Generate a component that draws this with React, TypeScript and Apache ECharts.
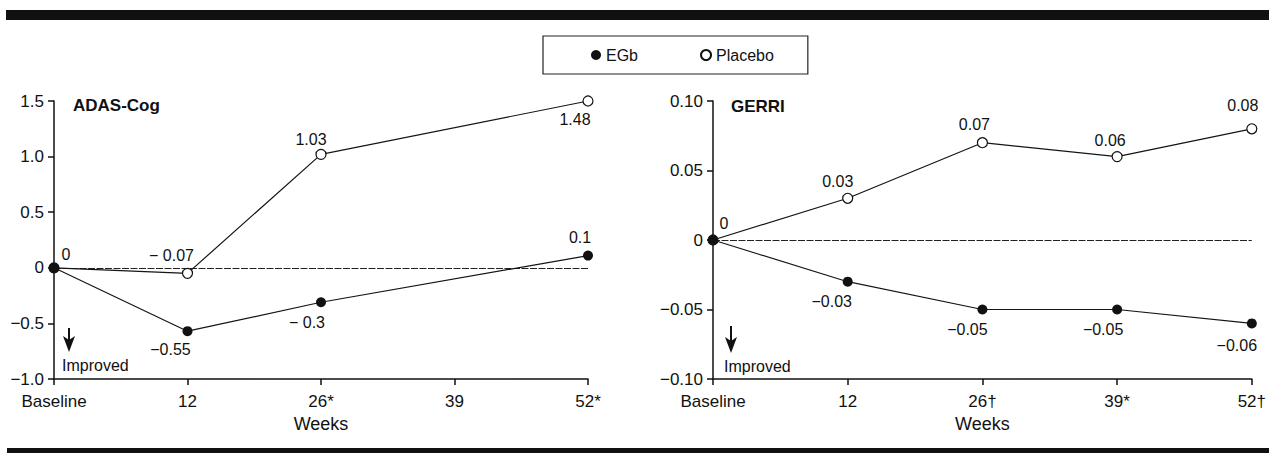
import React, { useEffect, useRef } from "react";
import * as echarts from "echarts";

const FONT = "'Liberation Sans', Arial, Helvetica, sans-serif";
const INK = "#111";

// ---- data ----
const weeks = ["Baseline", "12", "26", "39", "52"];
const adasXLabels = ["Baseline", "12", "26*", "39", "52*"];
const gerriXLabels = ["Baseline", "12", "26†", "39*", "52†"];

const adasYLabels = ["−1.0", "−0.5", "0", "0.5", "1.0", "1.5"];
const gerriYLabels = ["−0.10", "−0.05", "0", "0.05", "0.10"];

const adasEGb = [0, -0.57, -0.31, null, 0.11];
const adasPlacebo = [0, -0.05, 1.02, null, 1.5];
const adasEGbText = ["0", "−0.55", "− 0.3", null, "0.1"];
const adasPlaceboText = [null, "− 0.07", "1.03", null, "1.48"];

const gerriEGb = [0, -0.03, -0.05, -0.05, -0.06];
const gerriPlacebo = [0, 0.03, 0.07, 0.06, 0.08];
const gerriEGbText = ["0", "−0.03", "−0.05", "−0.05", "−0.06"];
const gerriPlaceboText = [null, "0.03", "0.07", "0.06", "0.08"];

// ---- label offsets (style) ----
const adasEGbOff = [[12, -13], [-17, 18], [-14, 20], [0, 0], [-8, -18]];
const adasPlaceboOff = [[0, 0], [-16, -18], [-10, -15], [0, 0], [-13, 18]];
const gerriEGbOff = [[11, -17], [-16, 20], [-15, 20], [-14, 20], [-15, 22]];
const gerriPlaceboOff = [[0, 0], [-10, -17], [-8, -18], [-7, -16], [-9, -23]];

function yFmt(labels: string[], min: number, interval: number) {
  return (v: number) => labels[Math.round((v - min) / interval)] ?? "";
}

function makeSeries(
  name: string,
  values: (number | null)[],
  texts: (string | null)[],
  offsets: number[][],
  idx: number,
  filled: boolean,
  zeroLine: boolean
) {
  return {
    type: "line",
    name,
    xAxisIndex: idx,
    yAxisIndex: idx,
    connectNulls: true,
    symbol: "circle",
    symbolSize: 10,
    showAllSymbol: true,
    z: filled ? 4 : 3,
    lineStyle: { color: "#151515", width: 1.2 },
    itemStyle: filled
      ? { color: INK, borderColor: INK, borderWidth: 0 }
      : { color: "#fff", borderColor: INK, borderWidth: 1.2 },
    label: {
      position: "inside",
      color: INK,
      fontSize: 16,
      fontFamily: FONT,
      textBorderWidth: 0,
    },
    emphasis: { disabled: true },
    data: values.map((v, i) =>
      v == null
        ? null
        : {
            value: v,
            label: texts[i]
              ? { show: true, formatter: texts[i], offset: offsets[i] }
              : { show: false },
          }
    ),
    markLine: zeroLine
      ? {
          silent: true,
          symbol: ["none", "none"],
          label: { show: false },
          lineStyle: { type: [7, 1.5], color: "#222", width: 1.2 },
          data: [{ yAxis: 0 }],
          z: 1,
        }
      : undefined,
  };
}

function xAxisOf(idx: number, labels: string[]) {
  return {
    type: "category",
    gridIndex: idx,
    data: weeks,
    boundaryGap: false,
    name: "Weeks",
    nameLocation: "middle",
    nameGap: 35,
    nameTextStyle: { color: INK, fontSize: 18, fontFamily: FONT },
    axisLine: { onZero: false, lineStyle: { color: INK, width: 1.5 } },
    axisTick: { show: true, interval: 0, length: 6, lineStyle: { color: INK, width: 1.5 } },
    axisLabel: {
      interval: 0,
      margin: 14,
      color: INK,
      fontSize: 17,
      fontFamily: FONT,
      formatter: (_v: string, i: number) => labels[i],
    },
    splitLine: { show: false },
  };
}

function yAxisOf(idx: number, labels: string[], min: number, max: number, interval: number) {
  return {
    type: "value",
    gridIndex: idx,
    min,
    max,
    interval,
    axisLine: { show: true, lineStyle: { color: INK, width: 1.5 } },
    axisTick: { show: true, length: 6, lineStyle: { color: INK, width: 1.5 } },
    axisLabel: {
      margin: 10,
      color: INK,
      fontSize: 17,
      fontFamily: FONT,
      formatter: yFmt(labels, min, interval),
    },
    splitLine: { show: false },
  };
}

function arrow(x: number, yTop: number, yTip: number) {
  return [
    {
      type: "line",
      shape: { x1: x, y1: yTop, x2: x, y2: yTip - 10 },
      style: { stroke: INK, lineWidth: 2 },
    },
    {
      type: "polygon",
      shape: { points: [[x - 6, yTip - 16], [x, yTip - 12], [x + 6, yTip - 16], [x, yTip]] },
      style: { fill: INK },
    },
  ];
}

export default function App() {
  const ref = useRef<HTMLDivElement>(null);
  useEffect(() => {
    if (!ref.current) return;
    const chart = echarts.init(ref.current, null, { renderer: "svg" });
    chart.setOption({
      animation: false,
      backgroundColor: "#fff",
      legend: {
        data: ["EGb", "Placebo"],
        left: 543,
        top: 36,
        padding: [11, 34, 11, 48],
        itemGap: 62,
        itemWidth: 10,
        itemHeight: 10,
        icon: "circle",
        borderColor: "#222",
        borderWidth: 1.2,
        selectedMode: false,
        textStyle: { color: INK, fontSize: 16, fontFamily: FONT },
      },
      grid: [
        { left: 54, top: 101, width: 534, height: 278 },
        { left: 713, top: 101, width: 541, height: 278 },
      ],
      xAxis: [xAxisOf(0, adasXLabels), xAxisOf(1, gerriXLabels)],
      yAxis: [
        yAxisOf(0, adasYLabels, -1, 1.5, 0.5),
        yAxisOf(1, gerriYLabels, -0.1, 0.1, 0.05),
      ],
      series: [
        makeSeries("Placebo", adasPlacebo, adasPlaceboText, adasPlaceboOff, 0, false, false),
        makeSeries("EGb", adasEGb, adasEGbText, adasEGbOff, 0, true, true),
        makeSeries("Placebo", gerriPlacebo, gerriPlaceboText, gerriPlaceboOff, 1, false, false),
        makeSeries("EGb", gerriEGb, gerriEGbText, gerriEGbOff, 1, true, true),
      ],
      graphic: [
        { type: "rect", shape: { x: 6, y: 10, width: 1263, height: 10 }, style: { fill: INK } },
        { type: "rect", shape: { x: 7, y: 448, width: 1262, height: 6 }, style: { fill: INK } },
        {
          type: "text",
          x: 73,
          y: 105,
          style: { text: "ADAS-Cog", fill: INK, font: `bold 17px ${FONT}`, verticalAlign: "middle" },
        },
        {
          type: "text",
          x: 731,
          y: 106,
          style: { text: "GERRI", fill: INK, font: `bold 17px ${FONT}`, verticalAlign: "middle" },
        },
        ...arrow(69, 328, 352),
        ...arrow(731, 326, 353),
        {
          type: "text",
          x: 62,
          y: 365,
          style: { text: "Improved", fill: INK, font: `16px ${FONT}`, verticalAlign: "middle" },
        },
        {
          type: "text",
          x: 724,
          y: 366,
          style: { text: "Improved", fill: INK, font: `16px ${FONT}`, verticalAlign: "middle" },
        },
      ],
    });
    return () => chart.dispose();
  }, []);
  return (
    <div
      ref={ref}
      style={{ position: "fixed", left: 0, top: 0, width: 1269, height: 453, background: "#fff" }}
    />
  );
}
